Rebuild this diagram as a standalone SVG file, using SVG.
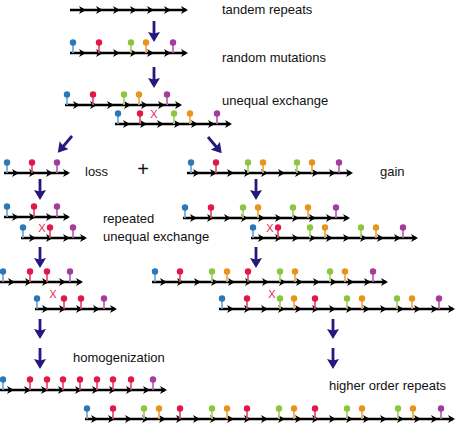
<svg xmlns="http://www.w3.org/2000/svg" xmlns:xlink="http://www.w3.org/1999/xlink" width="467" height="424" viewBox="0 0 467 424">
<style>
.ln{stroke:#000;stroke-width:2.3;fill:none}
.t{font-family:"Liberation Sans",Arial,sans-serif;font-size:13px;fill:#111}
.x{font-family:"Liberation Sans",Arial,sans-serif;font-size:11px;fill:#e2274f;text-anchor:middle}
.cn{stroke:#26197e;stroke-width:2.8;fill:none;marker-end:url(#nv)}
</style>
<defs>
<path id="a" d="M0,0 L-7,-4 L-5,0 L-7,4Z" fill="#000"/>
<g id="pb"><line x1="0" y1="0" x2="0" y2="-10" stroke="#6fa6d4" stroke-width="1.7"/><circle cx="0" cy="-10.5" r="3.2" fill="#2b78b8"/></g>
<g id="pr"><line x1="0" y1="0" x2="0" y2="-10" stroke="#e0506e" stroke-width="1.7"/><circle cx="0" cy="-10.5" r="3.2" fill="#e2184a"/></g>
<g id="pg"><line x1="0" y1="0" x2="0" y2="-10" stroke="#a5d26a" stroke-width="1.7"/><circle cx="0" cy="-10.5" r="3.2" fill="#8cc63e"/></g>
<g id="po"><line x1="0" y1="0" x2="0" y2="-10" stroke="#eaa94a" stroke-width="1.7"/><circle cx="0" cy="-10.5" r="3.2" fill="#e8941a"/></g>
<g id="pp"><line x1="0" y1="0" x2="0" y2="-10" stroke="#b765ae" stroke-width="1.7"/><circle cx="0" cy="-10.5" r="3.2" fill="#a43c9b"/></g>
<marker id="nv" markerUnits="userSpaceOnUse" viewBox="0 0 10 12" refX="5" refY="6" markerWidth="10" markerHeight="12" orient="auto">
<path d="M0,0 L10,6 L0,12 L1.5,6Z" fill="#26197e"/>
</marker>
</defs>
<rect width="467" height="424" fill="#fff"/>

<g id="row1">
<line class="ln" x1="70" y1="10" x2="186" y2="10"/>
<use href="#a" x="86" y="10"/><use href="#a" x="103" y="10"/><use href="#a" x="120" y="10"/><use href="#a" x="137" y="10"/><use href="#a" x="154" y="10"/><use href="#a" x="171" y="10"/><use href="#a" x="188" y="10"/>
<text class="t" x="222" y="14">tandem repeats</text>
</g>

<g id="row2">
<line class="ln" x1="70" y1="53" x2="186" y2="53"/>
<use href="#a" x="86" y="53"/><use href="#a" x="103" y="53"/><use href="#a" x="120" y="53"/><use href="#a" x="137" y="53"/><use href="#a" x="154" y="53"/><use href="#a" x="171" y="53"/><use href="#a" x="188" y="53"/>
<use href="#pb" x="73" y="53"/><use href="#pr" x="99" y="53"/><use href="#pg" x="131" y="53"/><use href="#po" x="146" y="53"/><use href="#pp" x="173" y="53"/>
<text class="t" x="222" y="62">random mutations</text>
</g>

<g id="row3">
<line class="ln" x1="65" y1="105" x2="180" y2="105"/>
<use href="#a" x="80" y="105"/><use href="#a" x="97" y="105"/><use href="#a" x="114" y="105"/><use href="#a" x="131" y="105"/><use href="#a" x="148" y="105"/><use href="#a" x="165" y="105"/><use href="#a" x="182" y="105"/>
<use href="#pb" x="67" y="105"/><use href="#pr" x="93" y="105"/><use href="#pg" x="124" y="105"/><use href="#po" x="139" y="105"/><use href="#pp" x="167" y="105"/>
<line class="ln" x1="115" y1="124" x2="230" y2="124"/>
<use href="#a" x="130" y="124"/><use href="#a" x="147" y="124"/><use href="#a" x="164" y="124"/><use href="#a" x="181" y="124"/><use href="#a" x="198" y="124"/><use href="#a" x="215" y="124"/><use href="#a" x="232" y="124"/>
<use href="#pb" x="118" y="124"/><use href="#pr" x="140" y="124"/><use href="#pg" x="174" y="124"/><use href="#po" x="190" y="124"/><use href="#pp" x="217" y="124"/>
<text class="x" x="154" y="118">X</text>
<text class="t" x="222" y="105">unequal exchange</text>
</g>

<g id="loss">
<line class="ln" x1="4" y1="173" x2="68" y2="173"/>
<use href="#a" x="19" y="173"/><use href="#a" x="36" y="173"/><use href="#a" x="53" y="173"/><use href="#a" x="70" y="173"/>
<use href="#pb" x="7" y="173"/><use href="#pr" x="32" y="173"/><use href="#pp" x="57" y="173"/>
<text class="t" x="85" y="176">loss</text>
</g>

<g id="plus">
<text x="143" y="176" style="font-family:'Liberation Sans',Arial,sans-serif;font-size:20px;fill:#111;text-anchor:middle">+</text>
</g>

<g id="gain">
<line class="ln" x1="187" y1="173" x2="351" y2="173"/>
<use href="#a" x="200" y="173"/><use href="#a" x="217" y="173"/><use href="#a" x="234" y="173"/><use href="#a" x="251" y="173"/><use href="#a" x="268" y="173"/><use href="#a" x="285" y="173"/><use href="#a" x="302" y="173"/><use href="#a" x="319" y="173"/><use href="#a" x="336" y="173"/><use href="#a" x="353" y="173"/>
<use href="#pb" x="191" y="173"/><use href="#pr" x="216" y="173"/><use href="#pg" x="248" y="173"/><use href="#po" x="263" y="173"/><use href="#pg" x="297" y="173"/><use href="#po" x="312" y="173"/><use href="#pp" x="339" y="173"/>
<text class="t" x="380" y="176">gain</text>
</g>

<g id="repeatedLeft">
<line class="ln" x1="4" y1="217" x2="68" y2="217"/>
<use href="#a" x="19" y="217"/><use href="#a" x="36" y="217"/><use href="#a" x="53" y="217"/><use href="#a" x="70" y="217"/>
<use href="#pb" x="7" y="217"/><use href="#pr" x="34" y="217"/><use href="#pp" x="57" y="217"/>
<line class="ln" x1="21" y1="238" x2="85" y2="238"/>
<use href="#a" x="36" y="238"/><use href="#a" x="53" y="238"/><use href="#a" x="70" y="238"/><use href="#a" x="87" y="238"/>
<use href="#pb" x="23" y="238"/><use href="#pr" x="50" y="238"/><use href="#pp" x="73" y="238"/>
<text class="x" x="42" y="232">X</text>
<text class="t" x="103" y="223">repeated</text>
<text class="t" x="103" y="241">unequal exchange</text>
</g>

<g id="repeatedRight">
<line class="ln" x1="183" y1="218" x2="348" y2="218"/>
<use href="#a" x="197" y="218"/><use href="#a" x="214" y="218"/><use href="#a" x="231" y="218"/><use href="#a" x="248" y="218"/><use href="#a" x="265" y="218"/><use href="#a" x="282" y="218"/><use href="#a" x="299" y="218"/><use href="#a" x="316" y="218"/><use href="#a" x="333" y="218"/><use href="#a" x="350" y="218"/>
<use href="#pb" x="185" y="218"/><use href="#pr" x="211" y="218"/><use href="#pg" x="243" y="218"/><use href="#po" x="258" y="218"/><use href="#pg" x="293" y="218"/><use href="#po" x="308" y="218"/><use href="#pp" x="336" y="218"/>
<line class="ln" x1="251" y1="238" x2="416" y2="238"/>
<use href="#a" x="265" y="238"/><use href="#a" x="282" y="238"/><use href="#a" x="299" y="238"/><use href="#a" x="316" y="238"/><use href="#a" x="333" y="238"/><use href="#a" x="350" y="238"/><use href="#a" x="367" y="238"/><use href="#a" x="384" y="238"/><use href="#a" x="401" y="238"/><use href="#a" x="418" y="238"/>
<use href="#pb" x="253" y="238"/><use href="#pr" x="278" y="238"/><use href="#pg" x="310" y="238"/><use href="#po" x="325" y="238"/><use href="#pg" x="361" y="238"/><use href="#po" x="376" y="238"/><use href="#pp" x="403" y="238"/>
<text class="x" x="270" y="232">X</text>
</g>

<g id="row4Left">
<line class="ln" x1="0" y1="282" x2="81" y2="282"/>
<use href="#a" x="15" y="282"/><use href="#a" x="32" y="282"/><use href="#a" x="49" y="282"/><use href="#a" x="66" y="282"/><use href="#a" x="83" y="282"/>
<use href="#pb" x="3" y="282"/><use href="#pr" x="30" y="282"/><use href="#pr" x="47" y="282"/><use href="#pp" x="70" y="282"/>
<line class="ln" x1="35" y1="309" x2="115" y2="309"/>
<use href="#a" x="49" y="309"/><use href="#a" x="66" y="309"/><use href="#a" x="83" y="309"/><use href="#a" x="100" y="309"/><use href="#a" x="117" y="309"/>
<use href="#pb" x="37" y="309"/><use href="#pr" x="64" y="309"/><use href="#pr" x="81" y="309"/><use href="#pp" x="104" y="309"/>
<text class="x" x="53" y="298">X</text>
</g>

<g id="row4Right">
<line class="ln" x1="152" y1="282" x2="386" y2="282"/>
<use href="#a" x="167" y="282"/><use href="#a" x="184" y="282"/><use href="#a" x="201" y="282"/><use href="#a" x="218" y="282"/><use href="#a" x="235" y="282"/><use href="#a" x="252" y="282"/><use href="#a" x="269" y="282"/><use href="#a" x="286" y="282"/><use href="#a" x="303" y="282"/><use href="#a" x="320" y="282"/><use href="#a" x="337" y="282"/><use href="#a" x="354" y="282"/><use href="#a" x="371" y="282"/><use href="#a" x="388" y="282"/>
<use href="#pb" x="155" y="282"/><use href="#pr" x="180" y="282"/><use href="#pg" x="212" y="282"/><use href="#po" x="227" y="282"/><use href="#pr" x="248" y="282"/><use href="#pg" x="280" y="282"/><use href="#po" x="295" y="282"/><use href="#pg" x="330" y="282"/><use href="#po" x="345" y="282"/><use href="#pp" x="373" y="282"/>
<line class="ln" x1="219" y1="309" x2="453" y2="309"/>
<use href="#a" x="234" y="309"/><use href="#a" x="251" y="309"/><use href="#a" x="268" y="309"/><use href="#a" x="285" y="309"/><use href="#a" x="302" y="309"/><use href="#a" x="319" y="309"/><use href="#a" x="336" y="309"/><use href="#a" x="353" y="309"/><use href="#a" x="370" y="309"/><use href="#a" x="387" y="309"/><use href="#a" x="404" y="309"/><use href="#a" x="421" y="309"/><use href="#a" x="438" y="309"/><use href="#a" x="455" y="309"/>
<use href="#pb" x="222" y="309"/><use href="#pr" x="247" y="309"/><use href="#pg" x="280" y="309"/><use href="#po" x="294" y="309"/><use href="#pr" x="315" y="309"/><use href="#pg" x="347" y="309"/><use href="#po" x="362" y="309"/><use href="#pg" x="397" y="309"/><use href="#po" x="412" y="309"/><use href="#pp" x="439" y="309"/>
<text class="x" x="272" y="298">X</text>
</g>

<g id="homogenization">
<line class="ln" x1="0" y1="390" x2="165" y2="390"/>
<use href="#a" x="14" y="390"/><use href="#a" x="31" y="390"/><use href="#a" x="48" y="390"/><use href="#a" x="65" y="390"/><use href="#a" x="82" y="390"/><use href="#a" x="99" y="390"/><use href="#a" x="116" y="390"/><use href="#a" x="133" y="390"/><use href="#a" x="150" y="390"/><use href="#a" x="167" y="390"/>
<use href="#pb" x="3" y="390"/><use href="#pr" x="30" y="390"/><use href="#pr" x="47" y="390"/><use href="#pr" x="63" y="390"/><use href="#pr" x="80" y="390"/><use href="#pr" x="97" y="390"/><use href="#pr" x="113" y="390"/><use href="#pr" x="131" y="390"/><use href="#pp" x="153" y="390"/>
<text class="t" x="73" y="362">homogenization</text>
</g>

<g id="higherOrder">
<line class="ln" x1="85" y1="419" x2="453" y2="419"/>
<use href="#a" x="98" y="419"/><use href="#a" x="115" y="419"/><use href="#a" x="132" y="419"/><use href="#a" x="149" y="419"/><use href="#a" x="166" y="419"/><use href="#a" x="183" y="419"/><use href="#a" x="200" y="419"/><use href="#a" x="217" y="419"/><use href="#a" x="234" y="419"/><use href="#a" x="251" y="419"/><use href="#a" x="268" y="419"/><use href="#a" x="285" y="419"/><use href="#a" x="302" y="419"/><use href="#a" x="319" y="419"/><use href="#a" x="336" y="419"/><use href="#a" x="353" y="419"/><use href="#a" x="370" y="419"/><use href="#a" x="387" y="419"/><use href="#a" x="404" y="419"/><use href="#a" x="421" y="419"/><use href="#a" x="438" y="419"/><use href="#a" x="455" y="419"/>
<use href="#pb" x="87" y="419"/><use href="#pr" x="113" y="419"/><use href="#pg" x="144" y="419"/><use href="#po" x="159" y="419"/><use href="#pr" x="180" y="419"/><use href="#pg" x="212" y="419"/><use href="#po" x="227" y="419"/><use href="#pr" x="247" y="419"/><use href="#pg" x="279" y="419"/><use href="#po" x="294" y="419"/><use href="#pr" x="315" y="419"/><use href="#pg" x="347" y="419"/><use href="#po" x="362" y="419"/><use href="#pg" x="398" y="419"/><use href="#po" x="413" y="419"/><use href="#pp" x="441" y="419"/>
<text class="t" x="329" y="390">higher order repeats</text>
</g>

<g id="connectors">
<line class="cn" x1="154" y1="21" x2="154" y2="37"/>
<line class="cn" x1="154" y1="67" x2="154" y2="83"/>
<line class="cn" x1="72" y1="136" x2="61" y2="149"/>
<line class="cn" x1="208" y1="137" x2="218.5" y2="149.5"/>
<line class="cn" x1="40" y1="179" x2="40" y2="195"/>
<line class="cn" x1="256" y1="179" x2="256" y2="195"/>
<line class="cn" x1="40" y1="247" x2="40" y2="263"/>
<line class="cn" x1="256" y1="247" x2="256" y2="263"/>
<line class="cn" x1="40" y1="319" x2="40" y2="334"/>
<line class="cn" x1="40" y1="348" x2="40" y2="364"/>
<line class="cn" x1="333" y1="319" x2="333" y2="334"/>
<line class="cn" x1="333" y1="348" x2="333" y2="364"/>
</g>
</svg>
